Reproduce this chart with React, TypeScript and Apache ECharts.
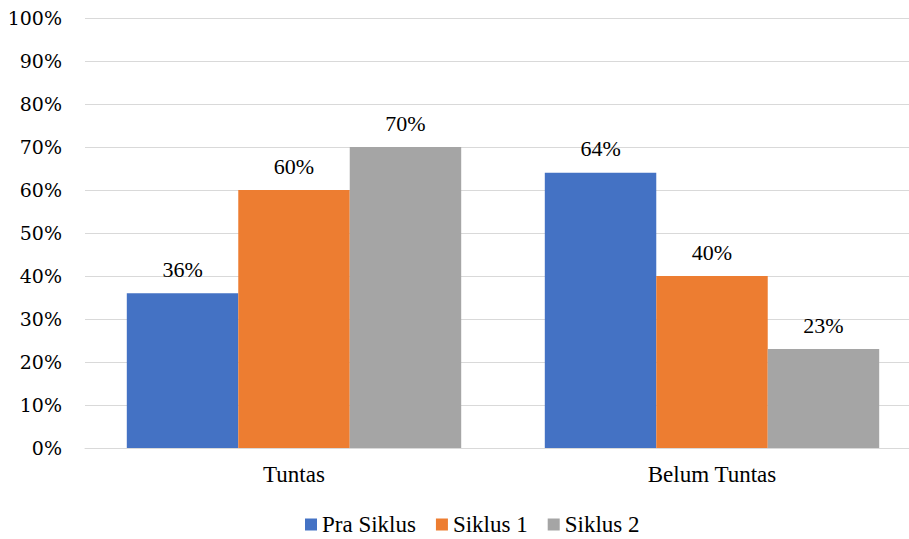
import React, { useEffect, useRef } from "react";
import * as echarts from "echarts";

const categories = ["Tuntas", "Belum Tuntas"];
const seriesNames = ["Pra Siklus", "Siklus 1", "Siklus 2"];
const praSiklus = [36, 64];
const siklus1 = [60, 40];
const siklus2 = [70, 23];
const colors = ["#4472C4", "#ED7D31", "#A5A5A5"];

export default function App() {
  const ref = useRef<HTMLDivElement>(null);
  useEffect(() => {
    if (!ref.current) return;
    const chart = echarts.init(ref.current, null, { renderer: "svg" });
    const data = [praSiklus, siklus1, siklus2];
    chart.setOption({
      animation: false,
      grid: { left: 85, right: 9, top: 18, bottom: 91, containLabel: false },
      legend: {
        top: 508,
        left: 300,
        itemWidth: 12,
        itemHeight: 12,
        itemGap: 20,
        icon: "rect",
        textStyle: { fontFamily: "Liberation Serif", fontSize: 23, color: "#000" },
        data: seriesNames,
      },
      xAxis: {
        type: "category",
        data: categories,
        axisLine: { show: true, lineStyle: { color: "#D9D9D9", width: 1 } },
        axisTick: { show: false },
        axisLabel: { fontFamily: "Liberation Serif", fontSize: 23, color: "#000", margin: 15 },
      },
      yAxis: {
        type: "value",
        min: 0,
        max: 100,
        interval: 10,
        axisLine: { show: false },
        axisTick: { show: false },
        splitLine: { lineStyle: { color: "#D9D9D9", width: 1 } },
        axisLabel: { fontFamily: "DejaVu Serif", fontSize: 19, color: "#000", margin: 23, formatter: "{value}%" },
      },
      series: seriesNames.map((name, i) => ({
        name,
        type: "bar",
        data: data[i],
        barGap: "0%",
        barCategoryGap: "20%",
        itemStyle: { color: colors[i] },
        label: {
          show: true,
          position: "top",
          distance: 13,
          formatter: "{c}%",
          fontFamily: "serif",
          fontSize: 22,
          color: "#000",
        },
      })),
    });
    return () => chart.dispose();
  }, []);
  return (
    <div style={{ position: "absolute", left: 0, top: 0, width: 909, height: 539, overflow: "hidden" }}>
      <div ref={ref} style={{ width: 930, height: 539 }} />
    </div>
  );
}
